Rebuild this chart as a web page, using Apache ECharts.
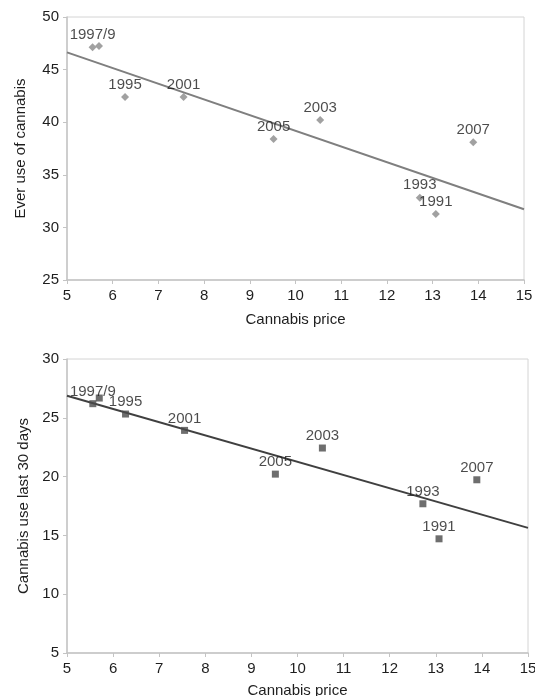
<!DOCTYPE html>
<html><head><meta charset="utf-8">
<script src="https://cdn.jsdelivr.net/npm/echarts@6/dist/echarts.min.js"></script>
<style>html,body{margin:0;padding:0;background:#fff}#c{width:535px;height:696px}</style>
</head><body><div id="c"></div>
<script>
var years = ['1997/9', '', '1995', '2001', '2005', '2003', '2007', '1993', '1991'];
var price = [5.56, 5.70, 6.27, 7.55, 9.52, 10.54, 13.89, 12.72, 13.07];
var everUse = [47.12, 47.24, 42.4, 42.4, 38.4, 40.2, 38.09, 32.83, 31.27];
var use30 = [26.2, 26.68, 25.32, 23.93, 20.21, 22.43, 19.73, 17.69, 14.71];
var trendTopX = [5, 15];
var trendTopY = [46.64, 31.72];
var trendBotX = [5, 15];
var trendBotY = [26.88, 15.64];
var xTicks = [5, 6, 7, 8, 9, 10, 11, 12, 13, 14, 15];
var yTopTicks = [25, 30, 35, 40, 45, 50];
var yBotTicks = [5, 10, 15, 20, 25, 30];

function pts(xs, ys, labels) {
  return xs.map(function (x, i) {
    var p = { value: [x, ys[i]] };
    if (labels) p.name = labels[i];
    return p;
  });
}
var FONT = 'Liberation Sans';
var TXT = '#1e1e1e';
var axisLine = { lineStyle: { color: '#c4c4c4', width: 1.5 } };
function xAxis(idx) {
  return {
    type: 'value', gridIndex: idx, min: xTicks[0], max: xTicks[xTicks.length - 1], interval: 1,
    name: 'Cannabis price', nameLocation: 'middle', nameGap: idx === 0 ? 32 : 30,
    nameTextStyle: { fontFamily: FONT, fontSize: 15, color: TXT },
    axisLine: axisLine, axisTick: { show: true, length: 4, lineStyle: { color: '#c4c4c4' } },
    axisLabel: { fontFamily: FONT, fontSize: 15, color: TXT, margin: 8 },
    splitLine: { show: false }
  };
}
function yAxis(idx, ticks, name, gap) {
  return {
    type: 'value', gridIndex: idx, min: ticks[0], max: ticks[ticks.length - 1], interval: 5,
    name: name, nameLocation: 'middle', nameGap: gap,
    nameTextStyle: { fontFamily: FONT, fontSize: 15, color: TXT },
    axisLine: axisLine, axisTick: { show: true, length: 4, lineStyle: { color: '#c4c4c4' } },
    axisLabel: { fontFamily: FONT, fontSize: 15, color: TXT, margin: 8 },
    splitLine: { show: false }
  };
}
var labelCfg = { show: true, position: 'top', distance: 1, fontFamily: FONT, fontSize: 15, color: TXT,
  formatter: function (p) { return p.name; } };

var chart = echarts.init(document.getElementById('c'), null, { renderer: 'canvas' });
chart.setOption({
  animation: false,
  backgroundColor: '#fff',
  grid: [
    { left: 67, top: 17, width: 457, height: 263, show: true, borderColor: '#d4d4d4', borderWidth: 1,
      containLabel: false, outerBoundsMode: 'none' },
    { left: 67, top: 359, width: 461, height: 294, show: true, borderColor: '#d4d4d4', borderWidth: 1,
      containLabel: false, outerBoundsMode: 'none' }
  ],
  xAxis: [xAxis(0), xAxis(1)],
  yAxis: [yAxis(0, yTopTicks, 'Ever use of cannabis', 39), yAxis(1, yBotTicks, 'Cannabis use last 30 days', 32)],
  series: [
    { type: 'line', xAxisIndex: 0, yAxisIndex: 0, data: pts(trendTopX, trendTopY), showSymbol: false,
      lineStyle: { color: '#7f7f7f', width: 2 }, z: 2 },
    { type: 'scatter', xAxisIndex: 0, yAxisIndex: 0, data: pts(price, everUse, years), symbol: 'diamond', symbolSize: 8,
      itemStyle: { color: '#8a8a8a' }, label: labelCfg, z: 3 },
    { type: 'line', xAxisIndex: 1, yAxisIndex: 1, data: pts(trendBotX, trendBotY), showSymbol: false,
      lineStyle: { color: '#404040', width: 2 }, z: 2 },
    { type: 'scatter', xAxisIndex: 1, yAxisIndex: 1, data: pts(price, use30, years), symbol: 'rect', symbolSize: 7,
      itemStyle: { color: '#4a4a4a' }, label: labelCfg, z: 3 }
  ]
});
</script></body></html>
